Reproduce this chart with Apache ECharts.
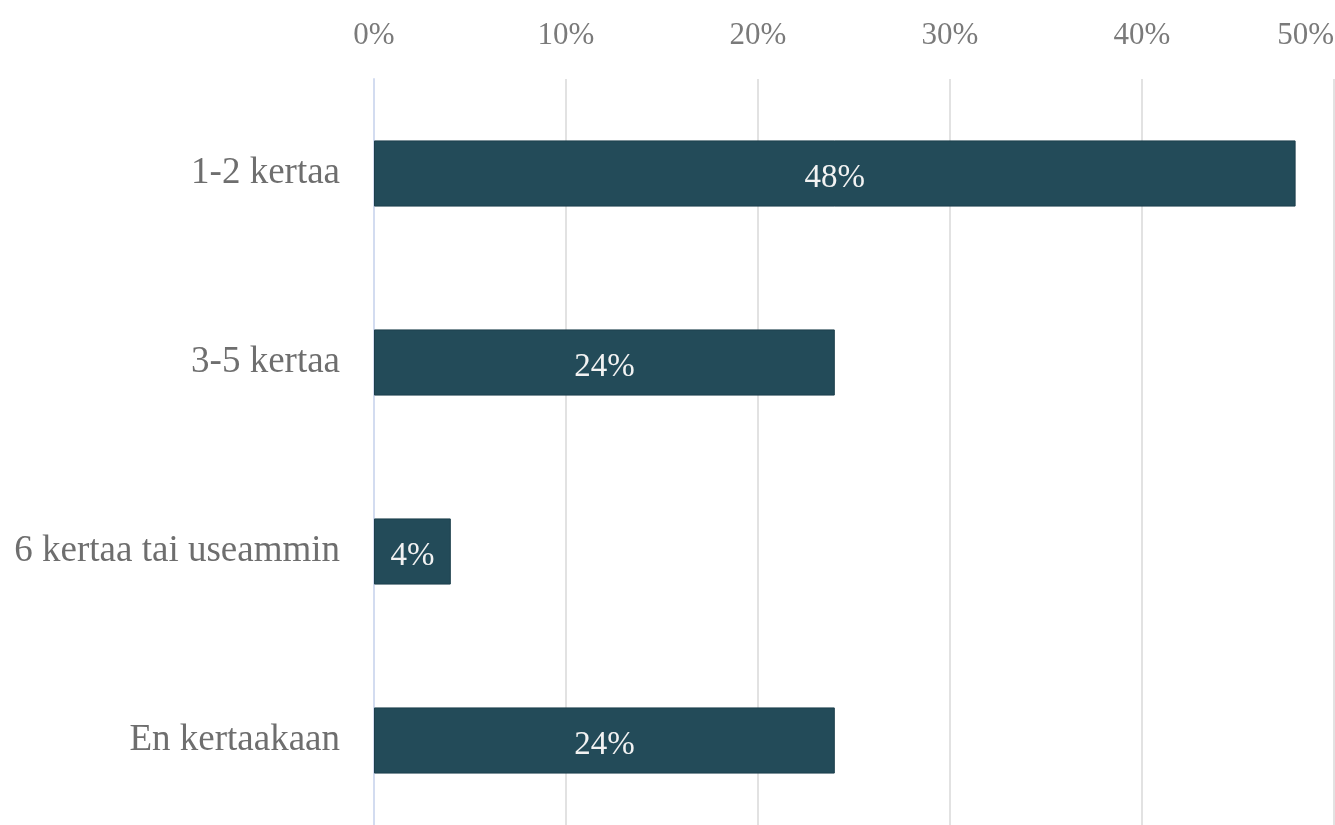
<!DOCTYPE html>
<html>
<head>
<meta charset="utf-8">
<script src="https://cdn.jsdelivr.net/npm/echarts@6/dist/echarts.min.js"></script>
<style>
  html, body { margin: 0; padding: 0; background: #fff; }
  #chart { width: 1335px; height: 825px; }
</style>
</head>
<body>
<div id="chart"></div>
<script>
const categories = ['1-2 kertaa', '3-5 kertaa', '6 kertaa tai useammin', 'En kertaakaan'];
const shares = [48, 24, 4, 24];
const tickMax = 50;
const tickStep = 10;

const chart = echarts.init(document.getElementById('chart'));

const serif = '"Liberation Serif", "DejaVu Serif", serif';

chart.setOption({
  animation: false,
  grid: {
    left: 374,
    right: 1,
    top: 79,
    height: 756,
    outerBoundsMode: 'none',
    containLabel: false,
  },
  xAxis: {
    type: 'value',
    position: 'top',
    min: 0,
    max: tickMax,
    interval: tickStep,
    axisLine: { show: false },
    axisTick: { show: false },
    axisLabel: {
      formatter: (v) => `${v}%`,
      color: '#7a7a7a',
      fontFamily: serif,
      fontSize: 31,
      margin: 28,
      alignMaxLabel: 'right',
    },
    splitLine: {
      show: true,
      lineStyle: { color: '#e2e2e2', width: 2 },
    },
  },
  yAxis: {
    type: 'category',
    inverse: true,
    data: categories,
    axisLine: {
      show: true,
      lineStyle: { color: '#d3dcf0', width: 2 },
    },
    axisTick: { show: false },
    axisLabel: {
      color: '#6e6e6e',
      fontFamily: serif,
      fontSize: 37,
      margin: 34,
    },
  },
  series: [
    {
      type: 'bar',
      data: shares,
      barCategoryGap: '65%',
      itemStyle: {
        color: '#234b59',
        borderColor: '#1c3f4c',
        borderWidth: 1,
      },
      label: {
        show: true,
        position: 'inside',
        offset: [0, 5],
        formatter: (p) => `${p.value}%`,
        color: '#f2f2f2',
        fontFamily: serif,
        fontSize: 33,
      },
    },
  ],
});
</script>
</body>
</html>
